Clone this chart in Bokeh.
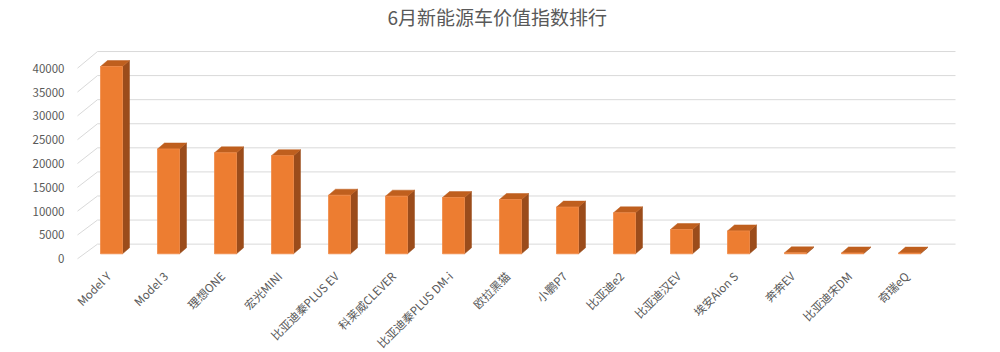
from bokeh.plotting import figure
from bokeh.models import Range1d, LinearAxis, FixedTicker
from bokeh.core.properties import value as pv
from bokeh.embed import file_html
from bokeh.resources import INLINE

# ---- data ----
categories = ["Model Y", "Model 3", "理想ONE", "宏光MINI", "比亚迪秦PLUS EV", "科莱威CLEVER",
              "比亚迪秦PLUS DM-i", "欧拉黑猫", "小鹏P7", "比亚迪e2", "比亚迪汉EV", "埃安Aion S",
              "奔奔EV", "比亚迪宋DM", "奇瑞eQ"]
values = [39300, 22000, 21200, 20600, 12300, 12100, 11800, 11400, 9800, 8600, 5100, 4800, 200, 180, 150]
y_ticks = [0, 5000, 10000, 15000, 20000, 25000, 30000, 35000, 40000]
title = "6月新能源车价值指数排行"

# ---- layout constants (pixels) ----
W, H = 1000, 352
FL, FR, FT, FB = 72, 960, 28, 352
X0, DX = 111.0, 57.0          # px of first category, px per category
Y0_BAR, KY = 253.0, 0.00478   # bar plane: px of zero, px per unit
Y0_FRONT = 258.0              # floor front edge zero
Y0_WALL, KW = 243.3, 0.00483  # back wall zero & scale
FRONT_W, DEPTH_X, DEPTH_Y = 22.0, 7.0, 6.0
WALL_X0, WALL_X1, EDGE_X = 97.0, 955.0, 77.0
LABEL_DX, LABEL_Y = -3.0, 273.0

FACE = "#ED7D31"
SIDE = "#9B4C1B"
TOP = "#BF5F1E"
GRID = "#D9D9D9"
TXT = "#595959"
FONT = "Noto Sans CJK SC"

def px_to_x(px):
    return (px - X0) / DX

x_range = Range1d(px_to_x(FL), px_to_x(FR))
y_range = Range1d(-(FB - Y0_BAR) / KY, (Y0_BAR - FT) / KY)

p = figure(width=W, height=H, x_range=x_range, y_range=y_range,
           output_backend="svg", toolbar_location=None,
           x_axis_location=None, y_axis_location=None,
           min_border_left=FL, min_border_right=W - FR, min_border_top=FT,
           min_border_bottom=H - FB, title=title)
p.extra_y_ranges = {
    "front": Range1d(-(FB - Y0_FRONT) / KY, (Y0_FRONT - FT) / KY),
    "wall": Range1d(-(FB - Y0_WALL) / KW, (Y0_WALL - FT) / KW),
}
p.outline_line_color = None
p.grid.visible = False
p.background_fill_color = "white"
p.border_fill_color = "white"

p.title.align = "left"
p.title.offset = 387 - FL
p.title.standoff = 0
p.title.text_font = FONT
p.title.text_font_size = "19px"
p.title.text_font_style = "normal"
p.title.text_color = TXT

# ---- back wall grid ----
p.segment(x0=[px_to_x(WALL_X0)] * len(y_ticks), x1=[px_to_x(WALL_X1)] * len(y_ticks),
          y0=y_ticks, y1=y_ticks, y_range_name="wall", line_color=GRID, line_width=1)
# side-wall slanted lines (front edge -> back wall)
back_in_front = [(Y0_FRONT - Y0_WALL + t * KW) / KY for t in y_ticks]
p.segment(x0=[px_to_x(EDGE_X)] * len(y_ticks), x1=[px_to_x(WALL_X0)] * len(y_ticks),
          y0=y_ticks, y1=back_in_front, y_range_name="front", line_color=GRID, line_width=1)

# ---- 3D bars ----
xs = list(range(len(categories)))
bw = FRONT_W / DX
ddx = DEPTH_X / DX
ddy = DEPTH_Y / KY
side_xs, side_ys, top_xs, top_ys = [], [], [], []
for x, v in zip(xs, values):
    xl, xr = x - bw / 2, x + bw / 2
    side_xs.append([xr, xr + ddx, xr + ddx, xr])
    side_ys.append([0, ddy, v + ddy, v])
    top_xs.append([xl, xr, xr + ddx, xl + ddx])
    top_ys.append([v, v, v + ddy, v + ddy])

p.patches(side_xs, side_ys, fill_color=SIDE, line_color=SIDE, line_width=0.5)
p.patches(top_xs, top_ys, fill_color=TOP, line_color=TOP, line_width=0.5)
p.vbar(x=xs, top=values, bottom=0, width=bw, fill_color=FACE, line_color="#F08A48", line_width=0.8)

# ---- category labels (rotated, as text) ----
label_y = -(LABEL_Y - Y0_BAR) / KY
p.text(x=[x + LABEL_DX / DX for x in xs], y=[label_y] * len(xs), text=categories,
       angle=0.785398, text_align="right", text_baseline="middle",
       text_font=pv(FONT), text_font_size="11.5px", text_color=TXT)

# ---- y axis ----
ya = LinearAxis(y_range_name="front", ticker=FixedTicker(ticks=y_ticks))
ya.axis_line_color = None
ya.major_tick_line_color = None
ya.minor_tick_line_color = None
ya.major_label_text_font = FONT
ya.major_label_text_font_size = "11.5px"
ya.major_label_text_color = TXT
ya.major_label_standoff = 2
p.add_layout(ya, "left")

open("out.html", "w").write(file_html(p, INLINE))
